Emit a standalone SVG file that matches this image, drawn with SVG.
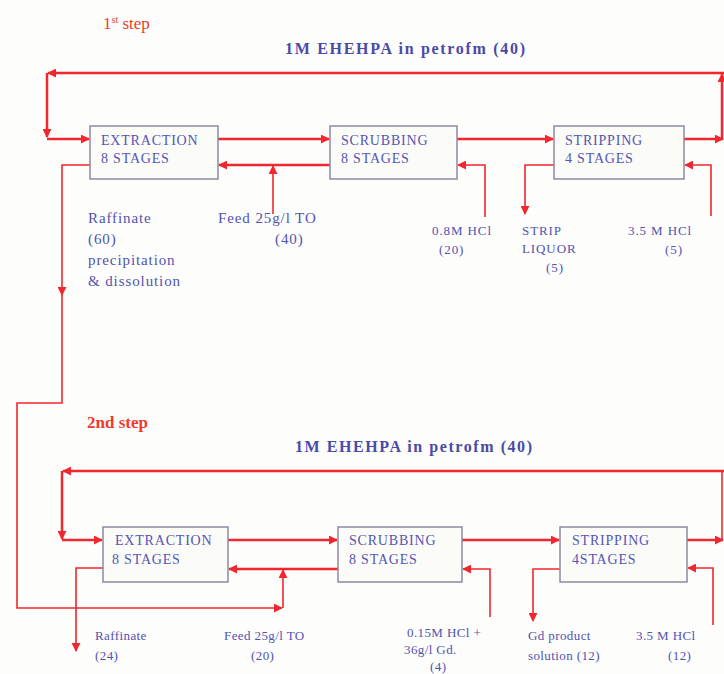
<svg xmlns="http://www.w3.org/2000/svg" width="724" height="674" viewBox="0 0 724 674">
<style>
.bg{fill:#fdfdfb}
.box{fill:#fbfbf8;stroke:#8a8aa0;stroke-width:1.5}
.ln{fill:none;stroke:#f2262e;stroke-width:2.5}
.ln2{fill:none;stroke:#f2262e;stroke-width:1.6}
.bt{font-family:"Liberation Serif",serif;font-size:14px;fill:#5555b5;letter-spacing:0.8px}
.lb{font-family:"Liberation Serif",serif;font-size:15px;fill:#5252b0;letter-spacing:0.9px}
.lbs{font-family:"Liberation Serif",serif;font-size:13px;fill:#5252b0;letter-spacing:0.9px}
.lbt{font-family:"Liberation Serif",serif;font-size:13px;fill:#5252b0;letter-spacing:0.4px}
.ti{font-family:"Liberation Serif",serif;font-size:16px;font-weight:bold;fill:#4a4aa8}
.st{font-family:"Liberation Serif",serif;font-size:17px;fill:#f03a2a}
</style>
<defs>
<marker id="ah" viewBox="0 0 10 10" refX="9" refY="5" markerWidth="9" markerHeight="9" markerUnits="userSpaceOnUse" orient="auto">
<path d="M0,0 L10,5 L0,10 z" fill="#f2262e"/>
</marker>
</defs>
<rect class="bg" x="0" y="0" width="724" height="674"/>

<text class="st" x="103" y="29">1<tspan font-size="10" dy="-6">st</tspan><tspan dy="6"> step</tspan></text>
<text class="ti" x="285" y="54" textLength="240" lengthAdjust="spacing">1M EHEHPA in petrofm  (40)</text>
<text class="st" x="87" y="428" font-weight="bold" font-size="18">2nd step</text>
<text class="ti" x="295" y="452" textLength="237" lengthAdjust="spacing">1M EHEHPA in petrofm  (40)</text>

<g id="connectors">
<!-- step 1 -->
<path class="ln" d="M724,73 L48,73" marker-end="url(#ah)"/>
<path class="ln" d="M47,73 L47,137" marker-end="url(#ah)"/>
<path class="ln" d="M47,139 L89,139" marker-end="url(#ah)"/>
<path class="ln" d="M218,139 L329,139" marker-end="url(#ah)"/>
<path class="ln" d="M457,139 L553,139" marker-end="url(#ah)"/>
<path class="ln" d="M684,139 L723,139" marker-end="url(#ah)"/>
<path class="ln" d="M722,139 L722,74" marker-end="url(#ah)"/>
<path class="ln" d="M330,165 L219,165" marker-end="url(#ah)"/>
<path class="ln2" d="M273,214 L273,166" marker-end="url(#ah)"/>
<path class="ln2" d="M90,165 L62,165 L62,295" marker-end="url(#ah)"/>
<path class="ln2" d="M62,295 L62,403 L17,403 L17,608 L282,608" marker-end="url(#ah)"/>
<path class="ln2" d="M485,217 L485,165 L458,165" marker-end="url(#ah)"/>
<path class="ln2" d="M554,165 L525,165 L525,214" marker-end="url(#ah)"/>
<path class="ln2" d="M711,216 L711,165 L685,165" marker-end="url(#ah)"/>
<!-- step 2 -->
<path class="ln" d="M724,471 L63,471" marker-end="url(#ah)"/>
<path class="ln" d="M62,471 L62,539" marker-end="url(#ah)"/>
<path class="ln" d="M62,540 L102,540" marker-end="url(#ah)"/>
<path class="ln" d="M228,540 L337,540" marker-end="url(#ah)"/>
<path class="ln" d="M462,540 L559,540" marker-end="url(#ah)"/>
<path class="ln" d="M687,540 L723,540" marker-end="url(#ah)"/>
<path class="ln2" d="M722,540 L722,472"/>
<path class="ln" d="M338,569 L229,569" marker-end="url(#ah)"/>
<path class="ln2" d="M283,608 L283,570" marker-end="url(#ah)"/>
<path class="ln2" d="M103,568 L76,568 L76,651" marker-end="url(#ah)"/>
<path class="ln2" d="M490,617 L490,569 L463,569" marker-end="url(#ah)"/>
<path class="ln2" d="M560,569 L533,569 L533,621" marker-end="url(#ah)"/>
<path class="ln2" d="M713,625 L713,568 L688,568" marker-end="url(#ah)"/>
</g>

<g id="extraction1"><rect class="box" x="90" y="126" width="128" height="53"/><text class="bt" x="101" y="145">EXTRACTION</text><text class="bt" x="101" y="163">8 STAGES</text></g>
<g id="scrubbing1"><rect class="box" x="330" y="126" width="127" height="53"/><text class="bt" x="341" y="145">SCRUBBING</text><text class="bt" x="341" y="163">8 STAGES</text></g>
<g id="stripping1"><rect class="box" x="554" y="126" width="130" height="53"/><text class="bt" x="565" y="145">STRIPPING</text><text class="bt" x="565" y="163">4 STAGES</text></g>

<g id="extraction2"><rect class="box" x="103" y="527" width="125" height="55"/><text class="bt" x="115" y="545">EXTRACTION</text><text class="bt" x="112" y="564">8 STAGES</text></g>
<g id="scrubbing2"><rect class="box" x="338" y="527" width="124" height="55"/><text class="bt" x="349" y="545">SCRUBBING</text><text class="bt" x="349" y="564">8 STAGES</text></g>
<g id="stripping2"><rect class="box" x="560" y="527" width="127" height="55"/><text class="bt" x="572" y="545">STRIPPING</text><text class="bt" x="572" y="564">4STAGES</text></g>

<g id="labels1">
<text class="lb" x="88" y="223">Raffinate</text>
<text class="lb" x="88" y="244">(60)</text>
<text class="lb" x="88" y="265">precipitation</text>
<text class="lb" x="88" y="286">&amp; dissolution</text>
<text class="lb" x="218" y="223">Feed 25g/l TO</text>
<text class="lb" x="275" y="244">(40)</text>
<text class="lbs" x="432" y="235">0.8M HCl</text>
<text class="lbs" x="439" y="254">(20)</text>
<text class="lbs" x="522" y="235">STRIP</text>
<text class="lbs" x="522" y="253">LIQUOR</text>
<text class="lbs" x="546" y="272">(5)</text>
<text class="lbs" x="628" y="235">3.5 M HCl</text>
<text class="lbs" x="665" y="254">(5)</text>
</g>
<g id="labels2">
<text class="lbt" x="95" y="640">Raffinate</text>
<text class="lbt" x="95" y="660">(24)</text>
<text class="lbt" x="224" y="640">Feed 25g/l TO</text>
<text class="lbt" x="251" y="660">(20)</text>
<text class="lbt" x="407" y="637">0.15M HCl +</text>
<text class="lbt" x="404" y="654">36g/l Gd.</text>
<text class="lbt" x="430" y="671">(4)</text>
<text class="lbt" x="528" y="640">Gd product</text>
<text class="lbt" x="528" y="660">solution (12)</text>
<text class="lbt" x="636" y="640">3.5 M HCl</text>
<text class="lbt" x="668" y="660">(12)</text>
</g>
</svg>
